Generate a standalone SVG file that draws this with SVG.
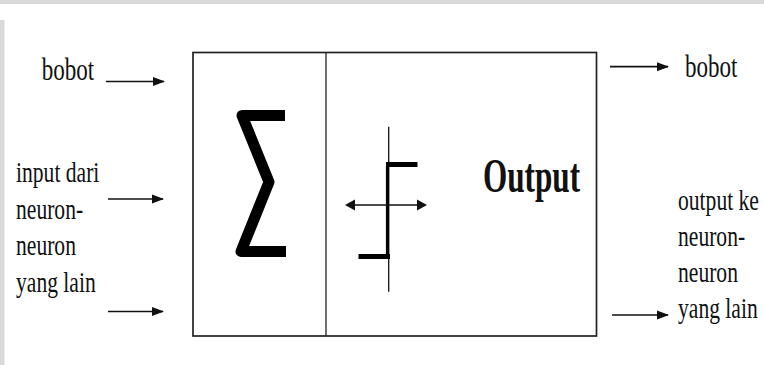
<svg xmlns="http://www.w3.org/2000/svg" width="764" height="365" viewBox="0 0 764 365">
<style>
.t{font-family:"Liberation Serif","Times New Roman",serif;font-size:30px;fill:#111}
.bb{font-family:"Liberation Serif","Times New Roman",serif;font-size:32px;fill:#111}
.b{font-family:"Liberation Serif","Times New Roman",serif;font-size:48px;font-weight:bold;fill:#111}
.c{stroke:#111;stroke-width:1.7;fill:none}
</style>
<defs>
<marker id="ah" markerWidth="12" markerHeight="10" viewBox="0 0 12 10" refX="11" refY="5" orient="auto" markerUnits="userSpaceOnUse">
<path d="M0,0.5 L12,5 L0,9.5 Z" fill="#111"/>
</marker>
</defs>
<rect x="0" y="0" width="764" height="365" fill="#fff"/>
<rect x="0" y="0" width="764" height="4" fill="#d9d9d9"/>
<rect x="0" y="20" width="4.5" height="345" fill="#d9d9d9"/>

<g id="neuron">
<rect x="193" y="52.5" width="403.5" height="283.5" fill="none" stroke="#222" stroke-width="1.7"/>
<line x1="326" y1="52.5" x2="326" y2="336" stroke="#222" stroke-width="1.3"/>
</g>
<g id="sum">
<polyline points="285,115.5 242,115.5 269,182 241,251.5 286,251.5" fill="none" stroke="#000" stroke-width="11" stroke-linejoin="round"/>
</g>
<g id="activation">
<line x1="388.7" y1="126.7" x2="388.7" y2="291.7" stroke="#111" stroke-width="1.3"/>
<path d="M387.5,166 V255" stroke="#000" stroke-width="3.2" fill="none"/>
<line x1="386" y1="164.5" x2="417.5" y2="164.5" stroke="#000" stroke-width="5"/>
<line x1="358.5" y1="256.5" x2="390" y2="256.5" stroke="#000" stroke-width="5"/>
<line x1="353" y1="205" x2="419" y2="205" stroke="#111" stroke-width="1.5"/>
<path d="M345,205 L355,199.5 L355,210.5 Z" fill="#111"/>
<path d="M427,205 L417,199.5 L417,210.5 Z" fill="#111"/>
</g>
<g id="output-label">
<text class="b" transform="translate(483,192) scale(0.65,1)">Output</text>
</g>

<g id="in-labels">
<text class="bb" transform="translate(41.7,80) scale(0.72,1)">bobot</text>
<text class="t" transform="translate(16,182) scale(0.72,1)">input dari</text>
<text class="t" transform="translate(16,218.5) scale(0.72,1)">neuron-</text>
<text class="t" transform="translate(16,255) scale(0.72,1)">neuron</text>
<text class="t" transform="translate(16,292) scale(0.72,1)">yang lain</text>
</g>
<g id="out-labels">
<text class="bb" transform="translate(685,77) scale(0.72,1)">bobot</text>
<text class="t" transform="translate(678,210) scale(0.72,1)">output ke</text>
<text class="t" transform="translate(678,246) scale(0.72,1)">neuron-</text>
<text class="t" transform="translate(678,282) scale(0.72,1)">neuron</text>
<text class="t" transform="translate(678,318) scale(0.72,1)">yang lain</text>
</g>

<g id="connectors">
<line class="c" x1="106" y1="81.5" x2="164" y2="81.5" marker-end="url(#ah)"/>
<line class="c" x1="108" y1="199" x2="163" y2="199" marker-end="url(#ah)"/>
<line class="c" x1="108" y1="311.5" x2="163" y2="311.5" marker-end="url(#ah)"/>
<line class="c" x1="610" y1="66.7" x2="668" y2="66.7" marker-end="url(#ah)"/>
<line class="c" x1="612" y1="315" x2="668" y2="315" marker-end="url(#ah)"/>
</g>
</svg>
